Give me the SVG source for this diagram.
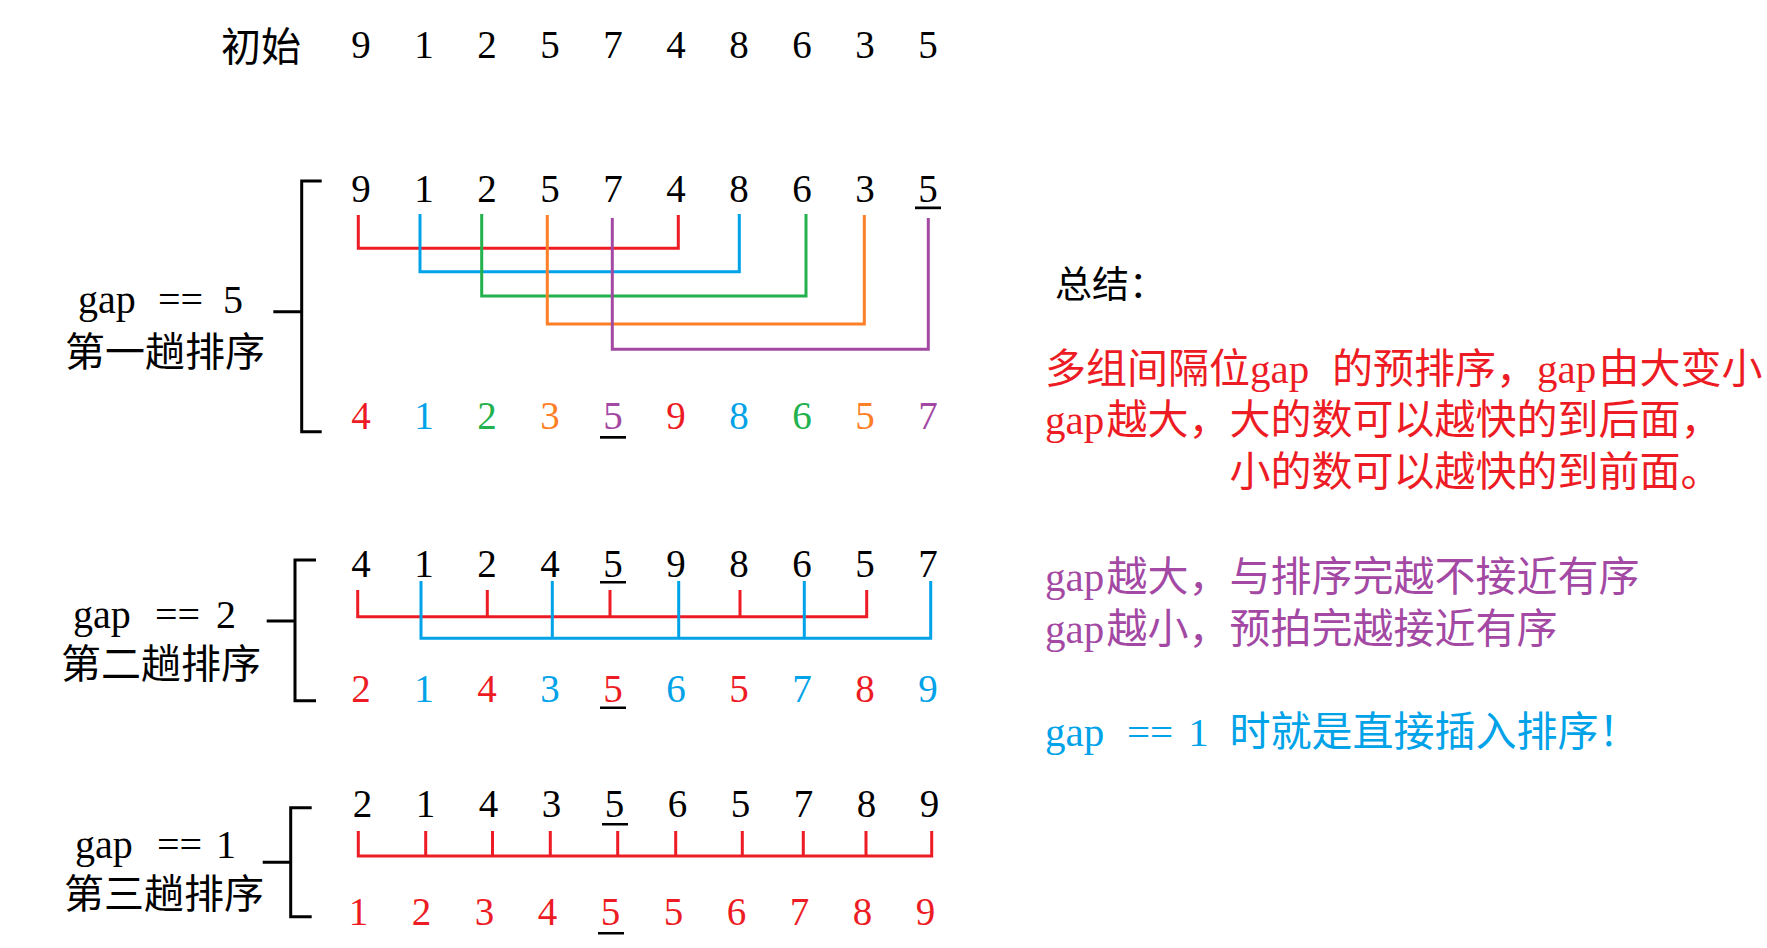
<svg xmlns="http://www.w3.org/2000/svg" width="1767" height="948" viewBox="0 0 1767 948">
<style>
.n{font-family:"Liberation Serif",serif;font-size:39px;text-anchor:middle}
.lat{font-family:"Liberation Serif",serif;font-size:40px}
.cjk{font-family:"Noto Sans CJK SC",sans-serif;font-size:40px}
.rt{font-size:41px}
.rl{font-family:"Liberation Serif",serif}
.rc{font-family:"Noto Sans CJK SC",sans-serif}
.k{fill:#000}
.r{fill:#ED1C24}
.b{fill:#00A2E8}
.g{fill:#22B14C}
.o{fill:#FF7F27}
.p{fill:#A349A4}
.ln{fill:none;stroke-width:3;stroke-linejoin:miter;stroke-linecap:butt}
.br{fill:none;stroke:#000;stroke-width:3}
</style>
<rect width="1767" height="948" fill="#fff"/>

<g id="connectors">
  <!-- gap 5 -->
  <path class="ln" stroke="#ED1C24" d="M358.3,215 V248.3 H678.3 V215"/>
  <path class="ln" stroke="#00A2E8" d="M420,214 V271.7 H739.3 V214"/>
  <path class="ln" stroke="#22B14C" d="M481.7,214 V296 H806 V214"/>
  <path class="ln" stroke="#FF7F27" d="M547.3,215 V324 H864.3 V215"/>
  <path class="ln" stroke="#A349A4" d="M612.3,218 V349.3 H928.3 V218"/>
  <!-- gap 2 -->
  <path class="ln" stroke="#ED1C24" d="M357.7,590 V616.7 H866.7 V590 M487.3,590 V616.7 M610,590 V616.7 M740,590 V616.7"/>
  <path class="ln" stroke="#00A2E8" d="M421,581 V638.3 H930.7 V581 M552.3,581 V638.3 M678.7,581 V638.3 M804.3,581 V638.3"/>
  <!-- gap 1 -->
  <path class="ln" stroke="#ED1C24" d="M358.3,831 V856 H931.7 V831 M425.7,831 V856 M492.5,831 V856 M550.3,831 V856 M617.7,831 V856 M675.7,831 V856 M742.3,831 V856 M803.3,831 V856 M866,831 V856"/>
  <!-- brackets -->
  <path class="br" d="M321.7,181 H301.7 V431.7 H321.7 M273.3,311.7 H301.7"/>
  <path class="br" d="M316,560 H295 V700.7 H316 M266.7,621 H295"/>
  <path class="br" d="M311.7,807.7 H290.7 V916.7 H311.7 M262.7,862.3 H290.7"/>
</g>

<g id="row-initial">
  <text class="cjk k" x="221" y="61" font-size="39">初始</text>
  <text class="n k" y="58"><tspan x="361">9</tspan><tspan x="424">1</tspan><tspan x="487">2</tspan><tspan x="550">5</tspan><tspan x="613">7</tspan><tspan x="676">4</tspan><tspan x="739">8</tspan><tspan x="802">6</tspan><tspan x="865">3</tspan><tspan x="928">5</tspan></text>
</g>

<g id="label-gap5">
  <text class="lat k" y="313"><tspan x="78">gap</tspan><tspan x="158">==</tspan><tspan x="233" text-anchor="middle">5</tspan></text>
  <text class="cjk k" x="65" y="366">第一趟排序</text>
</g>

<g id="row-gap5-before">
  <text class="n k" y="201.5"><tspan x="361">9</tspan><tspan x="424">1</tspan><tspan x="487">2</tspan><tspan x="550">5</tspan><tspan x="613">7</tspan><tspan x="676">4</tspan><tspan x="739">8</tspan><tspan x="802">6</tspan><tspan x="865">3</tspan><tspan x="928">5</tspan></text>
  <rect x="915" y="206.5" width="26" height="2.7" fill="#000"/>
</g>

<g id="row-gap5-after">
  <text class="n" y="429"><tspan x="361" class="r">4</tspan><tspan x="424" class="b">1</tspan><tspan x="487" class="g">2</tspan><tspan x="550" class="o">3</tspan><tspan x="613" class="p">5</tspan><tspan x="676" class="r">9</tspan><tspan x="739" class="b">8</tspan><tspan x="802" class="g">6</tspan><tspan x="865" class="o">5</tspan><tspan x="928" class="p">7</tspan></text>
  <rect x="600" y="436" width="26" height="2.7" fill="#000"/>
</g>

<g id="label-gap2">
  <text class="lat k" y="628"><tspan x="73">gap</tspan><tspan x="155">==</tspan><tspan x="226" text-anchor="middle">2</tspan></text>
  <text class="cjk k" x="61" y="678">第二趟排序</text>
</g>

<g id="row-gap2-before">
  <text class="n k" y="576.5"><tspan x="361">4</tspan><tspan x="424">1</tspan><tspan x="487">2</tspan><tspan x="550">4</tspan><tspan x="613">5</tspan><tspan x="676">9</tspan><tspan x="739">8</tspan><tspan x="802">6</tspan><tspan x="865">5</tspan><tspan x="928">7</tspan></text>
  <rect x="600" y="581" width="26" height="2.5" fill="#000"/>
</g>

<g id="row-gap2-after">
  <text class="n" y="701.5"><tspan x="361" class="r">2</tspan><tspan x="424" class="b">1</tspan><tspan x="487" class="r">4</tspan><tspan x="550" class="b">3</tspan><tspan x="613" class="r">5</tspan><tspan x="676" class="b">6</tspan><tspan x="739" class="r">5</tspan><tspan x="802" class="b">7</tspan><tspan x="865" class="r">8</tspan><tspan x="928" class="b">9</tspan></text>
  <rect x="600" y="706.5" width="26" height="2.5" fill="#000"/>
</g>

<g id="label-gap1">
  <text class="lat k" y="858"><tspan x="75">gap</tspan><tspan x="157">==</tspan><tspan x="226" text-anchor="middle">1</tspan></text>
  <text class="cjk k" x="64" y="908">第三趟排序</text>
</g>

<g id="row-gap1-before">
  <text class="n k" y="817"><tspan x="362.5">2</tspan><tspan x="425.5">1</tspan><tspan x="488.5">4</tspan><tspan x="551.5">3</tspan><tspan x="614.5">5</tspan><tspan x="677.5">6</tspan><tspan x="740.5">5</tspan><tspan x="803.5">7</tspan><tspan x="866.5">8</tspan><tspan x="929.5">9</tspan></text>
  <rect x="602" y="823" width="26" height="2.5" fill="#000"/>
</g>

<g id="row-gap1-after">
  <text class="n r" y="925"><tspan x="358.5">1</tspan><tspan x="421.5">2</tspan><tspan x="484.5">3</tspan><tspan x="547.5">4</tspan><tspan x="610.5">5</tspan><tspan x="673.5">5</tspan><tspan x="736.5">6</tspan><tspan x="799.5">7</tspan><tspan x="862.5">8</tspan><tspan x="925.5">9</tspan></text>
  <rect x="598" y="932" width="26" height="2.5" fill="#000"/>
</g>

<g id="summary">
  <text class="rc k" x="1055" y="298" font-size="37">总结：</text>
  <text class="rt r" y="383"><tspan class="rc" x="1045">多组间隔位</tspan><tspan class="rl" x="1250">gap</tspan><tspan class="rc" x="1332">的预排序，</tspan><tspan class="rl" x="1537">gap</tspan><tspan class="rc" x="1598.5">由大变小</tspan></text>
  <text class="rt r" y="434"><tspan class="rl" x="1045">gap</tspan><tspan class="rc" x="1106.5">越大，大的数可以越快的到后面，</tspan></text>
  <text class="rt r rc" x="1229.5" y="486">小的数可以越快的到前面。</text>
  <text class="rt p" y="591"><tspan class="rl" x="1045">gap</tspan><tspan class="rc" x="1106.5">越大，与排序完越不接近有序</tspan></text>
  <text class="rt p" y="643"><tspan class="rl" x="1045">gap</tspan><tspan class="rc" x="1106.5">越小，预拍完越接近有序</tspan></text>
  <text class="rt b" y="746"><tspan class="rl" x="1045">gap</tspan><tspan class="rl" x="1127">==</tspan><tspan class="rl" x="1198.5" text-anchor="middle">1</tspan><tspan class="rc" x="1229.5" text-anchor="start">时就是直接插入排序！</tspan></text>
</g>
</svg>
